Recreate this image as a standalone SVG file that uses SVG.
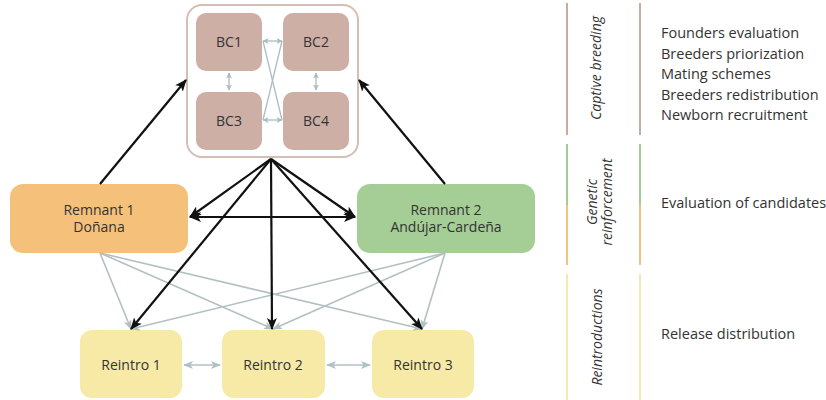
<svg xmlns="http://www.w3.org/2000/svg" width="826" height="400" viewBox="0 0 826 400">
<style>
text{font-family:"Open Sans","Noto Sans","Liberation Sans",sans-serif;fill:#333;font-size:14px}
.c{text-anchor:middle}
.it{font-style:italic}
.r{font-size:14.5px}
.bc{fill:#cdafa6}
.blk{stroke:#111;stroke-width:2.2;fill:none}
.gry{stroke:#b3c0c3;stroke-width:1.6;fill:none}
.sm{stroke:#a9bdc1;stroke-width:1.3;fill:none}
</style>
<defs>
<marker id="ab" markerUnits="userSpaceOnUse" markerWidth="12" markerHeight="10" refX="11" refY="5" orient="auto-start-reverse" viewBox="0 0 12 10"><path d="M0,0 L12,5 L0,10 L3,5 z" fill="#111"/></marker>
<marker id="ag" markerUnits="userSpaceOnUse" markerWidth="10" markerHeight="8" refX="9" refY="4" orient="auto-start-reverse" viewBox="0 0 10 8"><path d="M0,0 L10,4 L0,8 L2.5,4 z" fill="#b3c0c3"/></marker>
<marker id="as" markerUnits="userSpaceOnUse" markerWidth="6" markerHeight="6" refX="5.5" refY="3" orient="auto-start-reverse" viewBox="0 0 6 6"><path d="M0,0 L6,3 L0,6 L1.5,3 z" fill="#a9bdc1"/></marker>
</defs>

<g id="legend">
<line x1="567" y1="3" x2="567" y2="135" stroke="#c8aba3" stroke-width="2"/>
<line x1="640" y1="3" x2="640" y2="135" stroke="#c8aba3" stroke-width="2"/>
<line x1="567" y1="144" x2="567" y2="205" stroke="#a4cc95" stroke-width="2"/>
<line x1="640" y1="144" x2="640" y2="205" stroke="#a4cc95" stroke-width="2"/>
<line x1="567" y1="205" x2="567" y2="265" stroke="#f3c27f" stroke-width="2"/>
<line x1="640" y1="205" x2="640" y2="265" stroke="#f3c27f" stroke-width="2"/>
<line x1="567" y1="274" x2="567" y2="400" stroke="#f3eab0" stroke-width="2"/>
<line x1="640" y1="274" x2="640" y2="400" stroke="#f3eab0" stroke-width="2"/>
<text class="c it" transform="translate(601,68) rotate(-90)">Captive breeding</text>
<text class="c it" transform="translate(597,202) rotate(-90)">Genetic</text>
<text class="c it" transform="translate(612,202) rotate(-90)">reinforcement</text>
<text class="c it" transform="translate(602,337) rotate(-90)">Reintroductions</text>
<text class="r" x="661" y="38">Founders evaluation</text>
<text class="r" x="661" y="58.5">Breeders priorization</text>
<text class="r" x="661" y="79">Mating schemes</text>
<text class="r" x="661" y="99.5">Breeders redistribution</text>
<text class="r" x="661" y="120">Newborn recruitment</text>
<text class="r" x="661" y="208">Evaluation of candidates</text>
<text class="r" x="661" y="339">Release distribution</text>
</g>

<g id="captive">
<rect x="187" y="5" width="171" height="152" rx="15" fill="#fff" stroke="#d6bdb5" stroke-width="2"/>
</g>
<g id="bc1"><rect class="bc" x="196" y="13" width="66" height="58" rx="10"/><text class="c" x="229" y="47">BC1</text></g>
<g id="bc2"><rect class="bc" x="283" y="13" width="66" height="58" rx="10"/><text class="c" x="316" y="47">BC2</text></g>
<g id="bc3"><rect class="bc" x="196" y="92" width="66" height="58" rx="10"/><text class="c" x="229" y="126">BC3</text></g>
<g id="bc4"><rect class="bc" x="283" y="92" width="66" height="58" rx="10"/><text class="c" x="316" y="126">BC4</text></g>

<g id="remnant1"><rect x="10" y="184" width="178" height="69" rx="13" fill="#f5c07a"/><text class="c" x="99" y="215">Remnant 1</text><text class="c" x="99" y="232">Doñana</text></g>
<g id="remnant2"><rect x="357" y="184" width="178" height="69" rx="13" fill="#a5cd96"/><text class="c" x="446" y="215">Remnant 2</text><text class="c" x="446" y="232">Andújar-Cardeña</text></g>

<g id="reintro1"><rect x="80" y="330" width="102" height="68" rx="12" fill="#f7eaa7"/><text class="c" x="131" y="370">Reintro 1</text></g>
<g id="reintro2"><rect x="222" y="330" width="103" height="68" rx="12" fill="#f7eaa7"/><text class="c" x="273" y="370">Reintro 2</text></g>
<g id="reintro3"><rect x="372" y="330" width="102" height="68" rx="12" fill="#f7eaa7"/><text class="c" x="423" y="370">Reintro 3</text></g>

<g id="connectors">
<line class="sm" x1="229" y1="73" x2="229" y2="90" marker-start="url(#as)" marker-end="url(#as)"/>
<line class="sm" x1="316" y1="73" x2="316" y2="90" marker-start="url(#as)" marker-end="url(#as)"/>
<line class="sm" x1="263" y1="41" x2="282" y2="41" marker-start="url(#as)" marker-end="url(#as)"/>
<line class="sm" x1="263" y1="120" x2="282" y2="120" marker-start="url(#as)" marker-end="url(#as)"/>
<line class="sm" x1="263" y1="41" x2="282" y2="120"/>
<line class="sm" x1="282" y1="41" x2="263" y2="120"/>

<line class="gry" x1="100" y1="253" x2="131" y2="329" marker-end="url(#ag)"/>
<line class="gry" x1="100" y1="253" x2="273" y2="329" marker-end="url(#ag)"/>
<line class="gry" x1="100" y1="253" x2="422" y2="329" marker-end="url(#ag)"/>
<line class="gry" x1="445" y1="253" x2="131" y2="329" marker-end="url(#ag)"/>
<line class="gry" x1="445" y1="253" x2="273" y2="329" marker-end="url(#ag)"/>
<line class="gry" x1="445" y1="253" x2="422" y2="329" marker-end="url(#ag)"/>
<line class="gry" x1="184" y1="365" x2="220" y2="365" marker-start="url(#ag)" marker-end="url(#ag)"/>
<line class="gry" x1="327" y1="365" x2="370" y2="365" marker-start="url(#ag)" marker-end="url(#ag)"/>

<line class="blk" x1="100" y1="184" x2="186" y2="80" marker-end="url(#ab)"/>
<line class="blk" x1="445" y1="184" x2="359" y2="80" marker-end="url(#ab)"/>
<line class="blk" x1="190" y1="217" x2="355" y2="217" marker-start="url(#ab)" marker-end="url(#ab)"/>
<line class="blk" x1="271" y1="159" x2="190" y2="217" marker-end="url(#ab)"/>
<line class="blk" x1="271" y1="159" x2="355" y2="217" marker-end="url(#ab)"/>
<line class="blk" x1="271" y1="159" x2="131" y2="329" marker-end="url(#ab)"/>
<line class="blk" x1="271" y1="159" x2="272" y2="329" marker-end="url(#ab)"/>
<line class="blk" x1="271" y1="159" x2="422" y2="329" marker-end="url(#ab)"/>
</g>
</svg>
